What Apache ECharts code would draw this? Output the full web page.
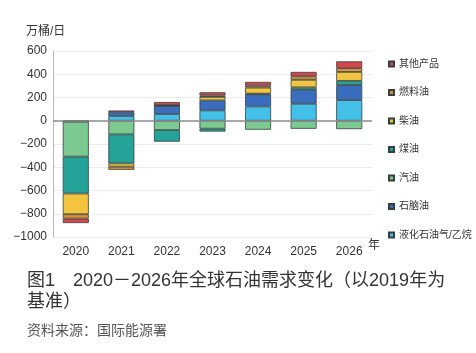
<!DOCTYPE html>
<html>
<head>
<meta charset="utf-8">
<script src="https://cdn.jsdelivr.net/npm/echarts@6/dist/echarts.min.js"></script>
<style>
html,body{margin:0;padding:0;background:#fff;}
#c{width:476px;height:353px;}
</style>
</head>
<body>
<div id="c"></div>
<script>
var categories = ['2020','2021','2022','2023','2024','2025','2026'];
var yTicks = [-1000,-800,-600,-400,-200,0,200,400,600];
var seriesNames = ['液化石油气/乙烷','石脑油','汽油','煤油','柴油','燃料油','其他产品'];
var lpg      = [0, 41, 58, 89, 123, 146, 178];
var naphtha  = [-8, 32, 69, 86, 105, 120, 129];
var gasoline = [-300, -117, -80, -68, -77, -69, -72];
var jet      = [-318, -250, -100, -25, 5, 21, 36];
var diesel   = [-178, -28, 6, 30, 52, 65, 77];
var fueloil  = [-38, -27, 0, 12, 17, 30, 33];
var other    = [-38, 15, 28, 28, 32, 38, 58];
var seriesData = [lpg, naphtha, gasoline, jet, diesel, fueloil, other];
var colors = ['#43bfe8','#3b6dbf','#7cca91','#26a398','#f3c53f','#dc8f37','#d8464a'];

var FONT = '"Liberation Sans", Arial, "Noto Sans CJK SC", sans-serif';
var chart = echarts.init(document.getElementById('c'));

var series = seriesNames.map(function(n, i){
  var s = {
    name: n, type: 'bar', stack: 'total', barWidth: 26,
    data: seriesData[i],
    itemStyle: {color: colors[i], borderColor: '#34403f', borderWidth: 0.8},
    emphasis: {disabled: true}
  };
  if (i === 0) {
    s.markLine = {
      silent: true, symbol: 'none', label: {show: false},
      lineStyle: {color: '#8c8c8c', width: 1.5, type: 'solid'},
      data: [{yAxis: 0}], z: 10
    };
  }
  return s;
});

var legendOrder = seriesNames.slice().reverse();
var legends = legendOrder.map(function(n, i){
  return {
    data: [n], orient: 'vertical', left: 383, top: 54 + i * 28.5,
    icon: 'rect', itemWidth: 5, itemHeight: 5, itemGap: 0,
    textStyle: {fontSize: 10, color: '#333', fontFamily: FONT},
    selectedMode: false
  };
});

chart.setOption({
  animation: false,
  color: colors,
  grid: {left: 53, right: 104, top: 51, bottom: 116, containLabel: false},
  legend: legends,
  xAxis: {
    type: 'category', data: categories,
    axisLine: {show: false}, axisTick: {show: false},
    axisLabel: {fontSize: 12, color: '#333', fontFamily: FONT, margin: 9}
  },
  yAxis: {
    type: 'value', min: yTicks[0], max: yTicks[yTicks.length-1], interval: 200,
    axisLine: {show: true, lineStyle: {color: '#b8b8b8', width: 1}},
    axisTick: {show: false},
    splitLine: {lineStyle: {color: '#ececec', width: 1}},
    axisLabel: {
      fontSize: 12, color: '#333', fontFamily: FONT, margin: 6,
      formatter: function(v){ return String(v).replace('-', '\u2212'); }
    }
  },
  series: series,
  graphic: [
    {type: 'text', left: 26, top: 26, style: {text: '万桶/日', fontSize: 12, fill: '#333', fontFamily: FONT}},
    {type: 'text', left: 368, top: 240, style: {text: '年', fontSize: 12, fill: '#333', fontFamily: FONT}},
    {type: 'text', left: 27, top: 272, style: {text: '图1', fontSize: 18, fill: '#333', fontFamily: FONT}},
    {type: 'text', left: 73, top: 272, style: {text: '2020－2026年全球石油需求变化（以2019年为', fontSize: 18, fill: '#333', fontFamily: FONT}},
    {type: 'text', left: 27, top: 293, style: {text: '基准）', fontSize: 18, fill: '#333', fontFamily: FONT}},
    {type: 'text', left: 27, top: 324, style: {text: '资料来源：国际能源署', fontSize: 14, fill: '#555', fontFamily: FONT}}
  ]
});
</script>
</body>
</html>
